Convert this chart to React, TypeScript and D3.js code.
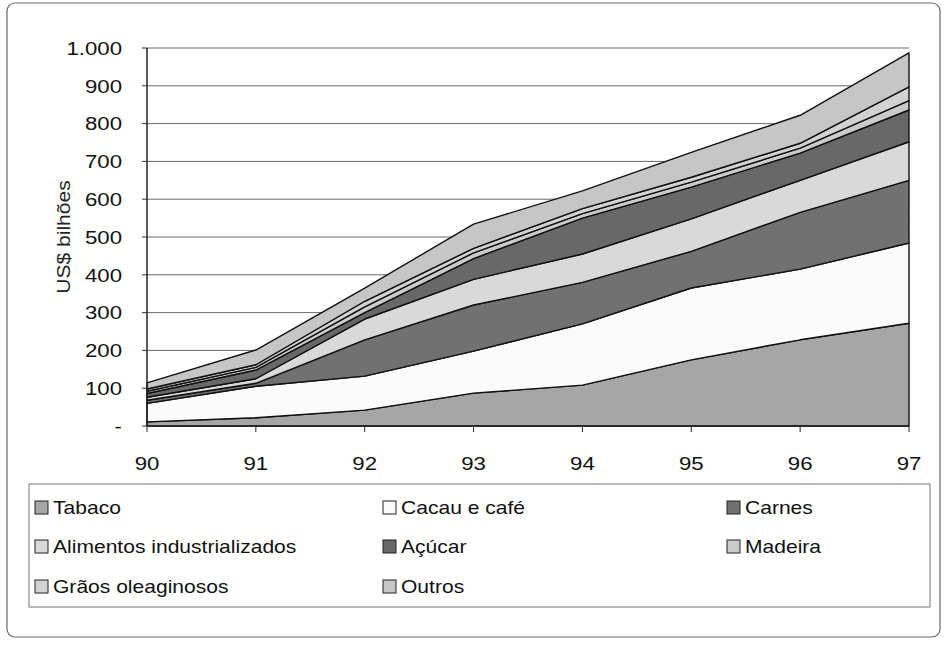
import React from "react";
import * as d3 from "d3";

const years = ["90", "91", "92", "93", "94", "95", "96", "97"];
const tabaco = [11, 22, 42, 87, 108, 175, 228, 272];
const cacau = [49, 83, 90, 111, 162, 190, 187, 212];
const carnes = [8, 8, 96, 122, 110, 97, 150, 166];
const alimentos = [8, 12, 55, 68, 75, 86, 85, 102];
const acucar = [10, 23, 17, 55, 95, 84, 72, 84];
const madeira = [6, 7, 15, 15, 12, 13, 13, 25];
const graos = [6, 7, 15, 12, 13, 13, 13, 36];
const outros = [16, 39, 35, 64, 47, 66, 74, 90];

const seriesNames = [
  "Tabaco",
  "Cacau e café",
  "Carnes",
  "Alimentos industrializados",
  "Açúcar",
  "Madeira",
  "Grãos oleaginosos",
  "Outros",
];
const seriesValues = [tabaco, cacau, carnes, alimentos, acucar, madeira, graos, outros];
const fills = ["#a6a6a6", "#fbfbfb", "#717171", "#d9d9d9", "#686868", "#cbcbcb", "#d2d2d2", "#c6c6c6"];
const yTicks = [0, 100, 200, 300, 400, 500, 600, 700, 800, 900, 1000];

const legendOrder = [
  [0, 1, 2],
  [3, 4, 5],
  [6, 7],
];

const SX = 1.17;

function T(props: { x: number; y: number; anchor?: string; size?: number; rotate?: number; children: any; fill?: string }) {
  const { x, y, anchor = "start", size = 19, rotate = 0, children, fill = "#111" } = props;
  return (
    <text
      transform={`translate(${x},${y}) rotate(${rotate}) scale(${SX},1)`}
      textAnchor={anchor}
      dy="0.36em"
      fontSize={size}
      fill={fill}
    >
      {children}
    </text>
  );
}

export default function App() {
  const x = d3.scalePoint<string>().domain(years).range([147, 909]);
  const y = d3.scaleLinear().domain([0, 1000]).range([426, 48]);

  const rows = years.map((yr, i) => {
    const r: any = { year: yr };
    seriesNames.forEach((n, k) => (r[n] = seriesValues[k][i]));
    return r;
  });
  const stack = d3.stack<any>().keys(seriesNames)(rows);
  const area = d3
    .area<any>()
    .x((d) => x(d.data.year) as number)
    .y0((d) => y(d[0]))
    .y1((d) => y(d[1]));

  const font = "'Liberation Sans', Arial, sans-serif";
  const colX = [35, 383, 727];
  const rowY = [508, 547, 587];

  return (
    <svg
      width={949}
      height={645}
      style={{ position: "absolute", left: 0, top: 0, background: "#fff" }}
      fontFamily={font}
    >
      <rect x={7} y={3} width={933} height={634} rx={8} ry={8} fill="none" stroke="#666" strokeWidth={1.2} />
      {yTicks.map((t) => (
        <g key={t}>
          {t > 0 && (
            <line x1={147} x2={909} y1={y(t)} y2={y(t)} stroke="#6a6a6a" strokeWidth={1} />
          )}
          <line x1={142} x2={147} y1={y(t)} y2={y(t)} stroke="#333" strokeWidth={1} />
          <T x={122} y={y(t)} anchor="end">
            {t === 0 ? "-" : d3.format(",")(t).replace(/,/g, ".")}
          </T>
        </g>
      ))}
      {stack.map((s, k) => (
        <path key={k} d={area(s) as string} fill={fills[k]} stroke="#111" strokeWidth={1.4} strokeLinejoin="round" />
      ))}
      <line x1={147} x2={147} y1={48} y2={426} stroke="#222" strokeWidth={1.5} />
      <line x1={147} x2={909} y1={426} y2={426} stroke="#222" strokeWidth={1.5} />
      {years.map((yr) => (
        <g key={yr}>
          <line x1={x(yr)} x2={x(yr)} y1={426} y2={432} stroke="#222" strokeWidth={1} />
          <T x={x(yr) as number} y={463} anchor="middle">
            {yr}
          </T>
        </g>
      ))}
      <T x={64} y={237} anchor="middle" rotate={-90} size={18} fill="#222">
        US$ bilhões
      </T>
      <rect x={29} y={484} width={901} height={123} fill="none" stroke="#777" strokeWidth={1} />
      {legendOrder.map((row, ri) =>
        row.map((k, ci) => (
          <g key={k}>
            <rect
              x={colX[ci]}
              y={rowY[ri] - 7}
              width={13}
              height={13}
              fill={fills[k]}
              stroke="#222"
              strokeWidth={1}
            />
            <T x={colX[ci] + 18} y={rowY[ri]} size={18}>
              {seriesNames[k]}
            </T>
          </g>
        ))
      )}
    </svg>
  );
}
